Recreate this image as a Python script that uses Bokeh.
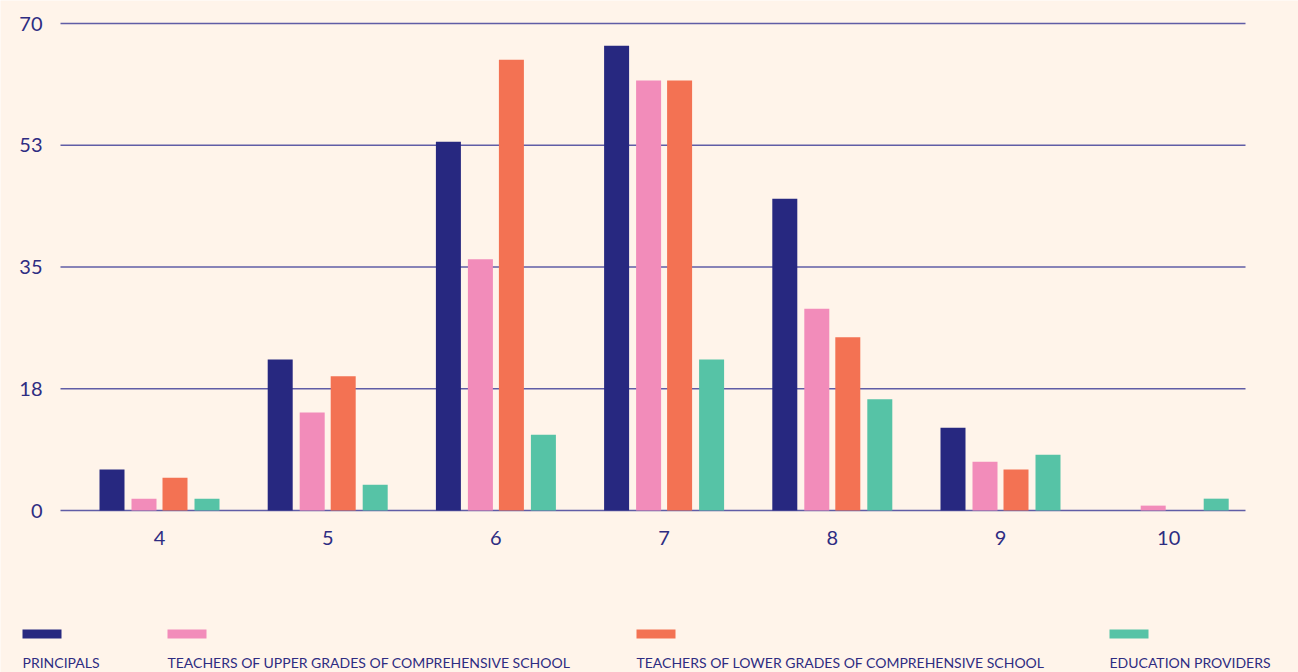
from bokeh.plotting import figure
from bokeh.models import Range1d, ColumnDataSource
from bokeh.transform import dodge
from bokeh.core.properties import value
from bokeh.embed import file_html
from bokeh.resources import INLINE

# ---- data ----
categories = [4, 5, 6, 7, 8, 9, 10]
principals = [5.9, 21.7, 53.0, 66.8, 44.8, 11.9, 0]
upper_teachers = [1.7, 14.1, 36.1, 61.8, 29.0, 7.0, 0.7]
lower_teachers = [4.7, 19.3, 64.8, 61.8, 24.9, 5.9, 0]
providers = [1.7, 3.7, 10.9, 21.7, 16.0, 8.0, 1.7]
series_names = ["PRINCIPALS",
                "TEACHERS OF UPPER GRADES OF COMPREHENSIVE SCHOOL",
                "TEACHERS OF LOWER GRADES OF COMPREHENSIVE SCHOOL",
                "EDUCATION PROVIDERS"]
y_ticks = [0, 17.5, 35, 52.5, 70]
y_tick_labels = ["0", "18", "35", "53", "70"]

# ---- style / layout ----
BG = "#fff4ea"
TXT = "#2e2c82"
GRID = "#44429a"
COLORS = ["#272880", "#f28cba", "#f37253", "#56c3a6"]
FONT = "Lato"
W, H = 1298, 672

# full-canvas frame; scale chosen so the plot area spans page pixels 60..1245, 23..510
SX = 168.2            # px per category unit
X0 = 4 - 159 / SX     # data x at left canvas edge
SY = 487 / 70         # px per value unit
Y0 = 510 / SY         # value at top canvas edge is Y0 - 0... (0 sits at pixel 510)

def px_x(px):
    return X0 + px / SX

def px_y(py):
    return (510 - py) / SY

p = figure(width=W, height=H,
           x_range=Range1d(px_x(0), px_x(W)), y_range=Range1d(px_y(H), px_y(0)),
           output_backend="svg", toolbar_location=None, min_border=0,
           background_fill_color=BG, border_fill_color=BG, outline_line_color=None)
p.axis.visible = False
p.grid.visible = False

# grid lines across the plot area
p.segment(x0=[px_x(60)] * len(y_ticks), x1=[px_x(1245)] * len(y_ticks),
          y0=y_ticks, y1=y_ticks, line_color=GRID, line_width=1.4, line_alpha=0.85)

src = ColumnDataSource(dict(cat=categories, s0=principals, s1=upper_teachers,
                            s2=lower_teachers, s3=providers))
bar_w = 25 / SX
offsets = [-47.5 / SX, -15.5 / SX, 15.5 / SX, 47.5 / SX]
for i, key in enumerate(["s0", "s1", "s2", "s3"]):
    p.vbar(x=dodge("cat", offsets[i], range=p.x_range), top=key, bottom=0, width=bar_w,
           source=src, fill_color=COLORS[i], line_color=None)

# y tick labels
p.text(x=[px_x(42)] * len(y_ticks), y=y_ticks, text=y_tick_labels,
       text_align="right", text_baseline="middle", text_font=value(FONT),
       text_font_size="20px", text_color=TXT)
# x tick labels
p.text(x=categories, y=[px_y(537)] * len(categories), text=[str(c) for c in categories],
       text_align="center", text_baseline="middle", text_font=value(FONT),
       text_font_size="20px", text_color=TXT)

# legend: swatch above label
leg_x = [22, 167, 636, 1109]
p.quad(left=[px_x(x) for x in leg_x], right=[px_x(x + 39) for x in leg_x],
       top=[px_y(629)] * 4, bottom=[px_y(638)] * 4,
       fill_color=COLORS, line_color=None)
p.text(x=[px_x(x) for x in leg_x], y=[px_y(662)] * 4, text=series_names,
       text_baseline="middle", text_font=value(FONT), text_font_size="14px",
       text_color=TXT)

open("out.html", "w").write(file_html(p, INLINE))
